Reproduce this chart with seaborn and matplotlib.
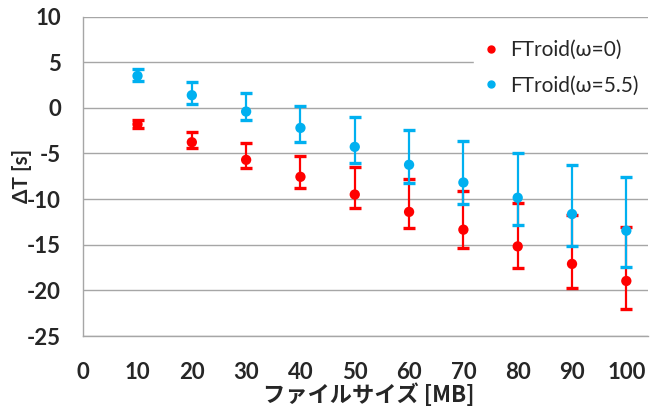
import numpy as np
import pandas as pd
import seaborn as sns
import matplotlib
matplotlib.use("Agg")
import matplotlib.pyplot as plt

sizes = [10, 20, 30, 40, 50, 60, 70, 80, 90, 100]
series_names = ["FTroid(ω=0)", "FTroid(ω=5.5)"]

mean_w0 = [-1.8, -3.77, -5.7, -7.56, -9.5, -11.4, -13.35, -15.18, -17.1, -18.97]
upper_w0 = [-1.3, -2.64, -3.9, -5.26, -6.5, -7.85, -9.12, -10.48, -11.75, -13.1]
lower_w0 = [-2.25, -4.4, -6.57, -8.8, -11.0, -13.2, -15.36, -17.6, -19.78, -22.07]

mean_w55 = [3.5, 1.38, -0.41, -2.2, -4.28, -6.24, -8.18, -9.85, -11.64, -13.46]
upper_w55 = [4.3, 2.85, 1.6, 0.2, -1.03, -2.38, -3.65, -5.0, -6.24, -7.6]
lower_w55 = [2.9, 0.47, -1.36, -3.73, -6.03, -8.2, -10.55, -12.85, -15.14, -17.48]

x_ticks = [0, 10, 20, 30, 40, 50, 60, 70, 80, 90, 100]
y_ticks = [-25, -20, -15, -10, -5, 0, 5, 10]
colors = ["#ff0000", "#00b0f0"]

sns.set_style("white")
plt.rcParams["font.family"] = ["Lato", "DejaVu Sans"]

df = pd.DataFrame({
    "size": sizes * 2,
    "dT": mean_w0 + mean_w55,
    "upper": upper_w0 + upper_w55,
    "lower": lower_w0 + lower_w55,
    "series": [series_names[0]] * len(sizes) + [series_names[1]] * len(sizes),
})

fig = plt.figure(figsize=(6.5, 4.07), dpi=100)
ax = fig.add_axes([0.128, 0.1744, 0.869, 0.785])

for name, col in zip(series_names, colors):
    sub = df[df["series"] == name]
    yerr = np.vstack([sub["dT"] - sub["lower"], sub["upper"] - sub["dT"]])
    ax.errorbar(sub["size"], sub["dT"], yerr=yerr, fmt="none", ecolor=col,
                elinewidth=1.6, capsize=4.3, capthick=2.4, zorder=3)
    sns.scatterplot(data=sub, x="size", y="dT", color=col, s=55,
                    edgecolor="none", ax=ax, zorder=4, label=name, legend=False)

ax.set_xlim(0, 104)
ax.set_ylim(-25, 10)
ax.set_xticks(x_ticks)
ax.set_yticks(y_ticks)
ax.set_yticklabels([str(v) for v in y_ticks])
ax.grid(axis="y", color="#a6a6a6", lw=1)
ax.grid(axis="x", visible=False)
ax.set_axisbelow(True)

for s in ["top", "right"]:
    ax.spines[s].set_visible(False)
for s in ["left", "bottom"]:
    ax.spines[s].set_color("#a6a6a6")
    ax.spines[s].set_linewidth(1)

ax.tick_params(axis="x", direction="in", length=6.5, width=1, color="#a6a6a6",
               pad=18.5, labelsize=16)
ax.tick_params(axis="y", direction="out", length=6, width=1, color="#a6a6a6",
               pad=10, labelsize=16)
for lab in ax.get_xticklabels() + ax.get_yticklabels():
    lab.set_fontweight("bold")

ax.set_xlabel("ファイルサイズ [MB]", fontsize=16, fontweight="bold",
              family=["Noto Sans CJK JP", "DejaVu Sans"], va="center")
ax.xaxis.set_label_coords(0.505, -0.185)
ax.set_ylabel("ΔT [s]", fontsize=15, fontweight="bold",
              family=["Lato", "DejaVu Sans"], va="center")
ax.yaxis.set_label_coords(-0.128 + 11.5 / 564.7, 0.5)

handles = [plt.Line2D([], [], marker="o", ls="none", color=c, markersize=5)
           for c in colors]
leg = ax.legend(handles, series_names, loc="upper left",
                bbox_to_anchor=(0.674, 0.985), frameon=True, framealpha=1,
                edgecolor="white", facecolor="white", fancybox=False,
                prop={"family": ["Lato", "DejaVu Sans"], "size": 15},
                handlelength=0.8, handletextpad=0.5, labelspacing=0.75,
                borderpad=0.4)
leg.set_zorder(5)

fig.savefig("out.png", dpi=100)
